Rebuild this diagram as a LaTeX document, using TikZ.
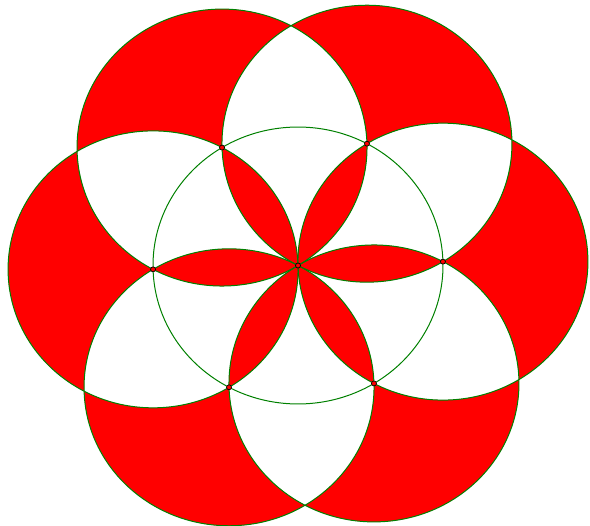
\documentclass[tikz,border=0pt]{standalone}
\usetikzlibrary{calc}
\definecolor{seedred}{RGB}{255,0,0}
\definecolor{seedgreen}{RGB}{0,128,0}

\begin{document}
\begin{tikzpicture}[
  x=1pt, y=-1pt,
  ring/.style={draw=seedgreen, line width=1pt},
  knot/.style={circle, fill=seedred, draw=black, line width=0.7pt,
               inner sep=0pt, minimum size=5pt},
]
\useasboundingbox (0,0) rectangle (590,526);
\coordinate (c0) at (298,265.5);

% ==================== six outer rings, even-odd filled ====================
\begin{scope}[shift={(c0)}, yscale=0.955, rotate=1.6]
  \fill[seedred, even odd rule]
    \foreach \a in {0,60,...,300} { (\a:145pt) circle[radius=145pt] };
  \draw[ring] (0,0) circle[radius=145pt];
  \foreach \a in {0,60,...,300}
    \draw[ring] (\a:145pt) circle[radius=145pt];

  % ==================== centre points ====================
  \node[knot] (m) at (0,0) {};
  \foreach \a in {0,60,...,300}
    \node[knot] (p\a) at (\a:145pt) {};
\end{scope}

\end{tikzpicture}
\end{document}
